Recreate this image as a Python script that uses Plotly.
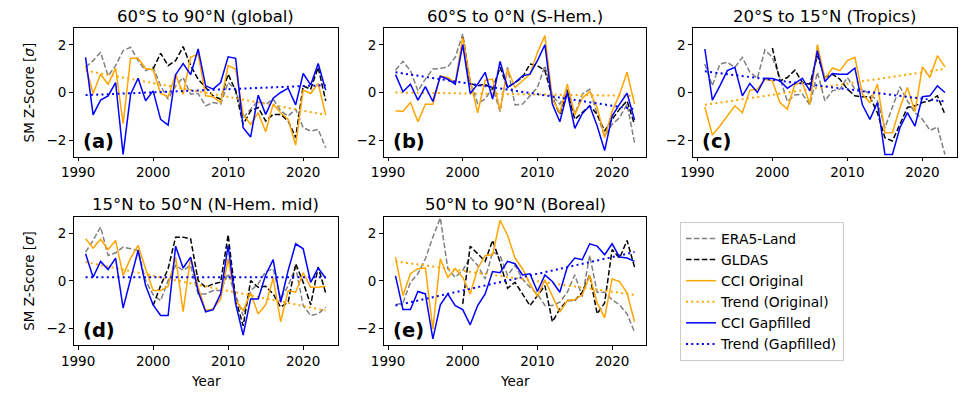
import plotly.graph_objects as go

# years 1991-2023, GLDAS only from 2000
years = list(range(1991, 2024))
gldas_years = list(range(2000, 2024))
trend_years = [1991, 2023]

# (a) 60°S to 90°N (global)
era5_a = [1.06, 1.34, 1.69, 0.70, 1.13, 1.76, 1.90, 1.34, 0.92, 1.06, 0.28, -0.28, 0.28, 0.63, -0.07, -0.04, -0.56,
          -0.42, -0.49, 0.42, 0.14, -1.06, -0.70, -0.35, -0.49, -0.28, -0.77, -0.99, -0.70, -1.48, -1.62, -1.55, -2.32]
gldas_a = [0.99, 1.65, 1.13, 1.34, 1.93, 1.13, 0.56, 0.21, -0.14, -0.28, 0.77, 0.07, -1.34, -0.77, -0.63, -1.20,
           -0.92, -0.92, -1.20, -1.90, 0.28, 0.14, 1.06, -0.35]
orig_a = [1.13, -0.04, 0.77, 0.35, 1.03, -1.31, 1.44, 1.44, 1.01, 0.96, -0.04, -0.18, 0.77, -0.07, 1.48, 1.62, -0.14,
          -0.18, -0.42, 1.13, 0.99, -0.92, -1.34, -0.85, -1.65, -0.49, -0.85, -1.13, -2.21, 0.10, -0.04, 0.38, -0.94]
gap_a = [1.48, -0.94, -0.32, -0.14, 0.42, -2.60, -0.07, 0.60, -0.35, 0.07, -1.13, -1.37, 0.75, 1.22, 0.75, 1.83, 0.28,
         0.14, 0.42, 1.50, 1.44, -1.48, -1.87, -0.11, -0.92, -0.24, 0.00, 0.18, -0.52, 0.80, 0.32, 1.22, 0.10]
trend_orig_a = [0.92, -0.94]
trend_gap_a = [-0.11, 0.31]

# (b) 60°S to 0°N (S-Hem.)
era5_b = [0.94, 1.31, 0.92, 0.07, 0.56, 0.99, 1.01, 1.08, 1.48, 2.46, 0.42, -0.46, -0.28, 0.21, -0.80, 1.06, -0.52,
          -0.49, -0.14, 0.21, 1.13, -0.14, -0.49, 0.14, -0.92, -0.07, 0.14, -0.92, -1.83, -1.34, -1.06, -0.49, -2.11]
gldas_b = [2.35, 0.38, 0.28, 0.35, 0.14, 1.06, 0.21, 0.42, 0.63, 1.20, 1.13, 0.92, -0.21, -0.92, 0.07, -1.13, -0.85,
           -0.56, -0.92, -1.62, -1.13, -0.70, -0.35, -1.34]
orig_b = [-0.77, -0.80, -0.42, -1.23, -0.49, -0.49, 0.70, 0.63, 0.42, 2.32, 0.50, -0.85, 0.52, 0.56, -0.75, 0.99, 0.21,
          0.49, 0.77, 1.69, 2.39, -0.28, -0.85, 0.35, -0.94, -0.24, 0.04, -0.63, -1.90, -0.80, -0.07, 0.85, -0.49]
gap_b = [0.75, 0.03, 0.35, -0.32, 0.25, -0.38, 0.68, 0.56, 0.35, 2.01, -0.04, 0.35, 0.85, -0.28, 1.31, 0.21, 0.42,
         0.70, 0.77, 1.34, 2.01, -0.49, -1.23, 0.00, -1.51, -0.89, -0.56, -1.41, -2.44, -0.99, -0.49, -0.03, -1.15]
trend_orig_b = [0.00, -0.14]
trend_gap_b = [0.85, -0.70]

# (c) 20°S to 15°N (Tropics)
era5_c = [1.20, 0.28, 1.20, 1.27, 1.06, 1.48, 0.85, 0.60, 1.79, 1.48, 0.63, -0.38, -0.10, -0.07, -0.52, 0.85, -0.35,
          0.07, 0.14, 0.63, 0.14, 0.14, -0.07, -0.35, -1.48, -0.63, 0.24, -0.35, -0.85, -1.13, -1.59, -1.45, -2.61]
gldas_c = [1.87, 0.49, 0.63, 0.94, 0.42, 0.35, 1.55, 0.63, 0.77, 0.56, 0.14, -0.14, -0.18, -0.18, -0.85, -1.90,
           -2.04, -1.34, -0.63, -0.56, -0.42, -0.35, -0.14, -0.92]
orig_c = [-0.61, -1.79, -1.41, -0.99, -0.56, -0.85, 0.10, 0.14, 0.56, 0.49, -0.42, -0.70, 0.35, 0.42, -0.49, 2.01,
          0.56, 1.03, 0.92, 1.34, 1.48, -0.07, -0.42, 0.35, -1.69, -1.69, -0.63, 0.21, -0.80, 1.08, 0.63, 1.55, 1.08]
gap_c = [1.83, -0.32, 0.28, 0.92, 1.06, -0.14, 0.38, 0.00, 0.60, 0.59, 0.49, 0.18, 0.38, 0.60, 0.07, 1.76, 0.46,
         0.80, 0.77, 0.77, 1.03, -0.52, -1.13, -0.42, -2.61, -2.61, -1.48, -0.85, -1.41, -0.18, -0.14, 0.28, 0.00]
trend_orig_c = [-0.52, 0.99]
trend_gap_c = [0.89, -0.38]

# (d) 15°N to 50°N (N-Hem. mid)
era5_d = [1.21, 1.70, 2.27, 1.07, 1.18, 1.42, 1.35, 1.28, 0.01, -0.59, -0.83, 0.01, 0.65, 0.44, 0.65, -0.55, -0.55,
          -0.41, -0.41, 0.30, -0.62, -1.46, -0.41, -0.13, 0.39, 0.51, -0.76, -0.20, 0.58, -1.04, -1.46, -1.39, -1.11]
gldas_d = [-1.04, -0.20, 0.51, 1.84, 1.84, 1.77, 0.01, -0.27, -0.13, -0.06, 1.94, -0.76, -1.89, 0.01, -0.27, -0.23,
           -0.55, -1.11, -0.90, 0.72, -0.06, -1.01, 0.58, -0.51]
orig_d = [1.77, 1.38, 1.75, 1.32, 1.70, 0.23, 0.96, 1.49, 0.51, -0.41, -0.41, -0.23, 1.00, -1.30, 1.00, -0.27, -1.25,
          -1.18, -0.76, 0.93, -0.83, -1.25, -0.51, -1.39, -1.01, 0.11, -1.72, -0.41, -0.48, 0.34, -0.27, -0.27, -0.23]
gap_d = [1.14, 0.15, 0.82, 0.48, 0.96, -1.15, 0.08, 1.28, -0.20, -1.01, -1.46, -1.46, 1.46, 0.54, 1.00, -0.45, -1.30,
         -1.21, -0.55, 1.49, -0.97, -2.28, -0.76, -0.76, 0.25, 0.89, -0.90, 0.44, 1.56, 1.35, -0.06, 0.54, 0.11]
trend_orig_d = [0.79, -1.25]
trend_gap_d = [0.15, 0.15]

# (e) 50°N to 90°N (Boreal)
era5_e = [-1.01, -0.93, -0.06, 0.30, 0.93, 1.84, 2.65, 0.51, 0.15, 0.44, 1.00, 0.65, 0.08, 1.21, 1.07, 0.23, 0.65,
          0.08, -0.27, -0.55, -1.04, -1.04, -0.90, -0.48, 0.25, -0.66, 1.07, -0.48, -0.48, -0.80, -1.01, -1.39, -2.15]
gldas_e = [-0.97, 1.46, 1.14, 0.82, 1.70, 0.79, -0.31, -0.06, -0.55, -1.04, -0.62, -0.20, -1.72, -1.18, -0.83, -0.83,
           -0.48, 0.25, -1.39, -0.93, 1.32, 0.96, 1.70, 0.58]
orig_e = [1.00, -0.62, 0.30, 0.51, 0.54, -2.03, 0.93, 0.15, 0.51, 0.15, -0.55, 0.51, 1.07, 1.10, 2.55, 1.92, 0.96,
          0.51, -0.13, -0.66, 0.04, -0.62, -1.32, -0.83, -0.80, -0.59, 0.23, -0.93, -1.55, 0.08, -0.03, -0.51, -1.72]
gap_e = [0.21, -1.21, -1.21, -0.45, -0.55, -2.44, -1.01, -0.55, -1.04, -1.21, -1.85, -1.04, -0.55, 0.39, 0.34, 0.82,
         0.72, 0.25, 0.30, -0.45, 0.25, -0.03, -0.48, 0.58, 0.96, 0.89, 1.56, 1.46, 1.10, 1.56, 1.00, 0.96, 0.82]
trend_orig_e = [0.82, -0.59]
trend_gap_e = [-1.04, 1.21]

titles = ['60°S to 90°N (global)', '60°S to 0°N (S-Hem.)', '20°S to 15°N (Tropics)',
          '15°N to 50°N (N-Hem. mid)', '50°N to 90°N (Boreal)']
labels = ['(a)', '(b)', '(c)', '(d)', '(e)']
x_ticks = [1990, 2000, 2010, 2020]
y_ticks = [-2, 0, 2]

panels = [
    (era5_a, gldas_a, orig_a, gap_a, trend_orig_a, trend_gap_a),
    (era5_b, gldas_b, orig_b, gap_b, trend_orig_b, trend_gap_b),
    (era5_c, gldas_c, orig_c, gap_c, trend_orig_c, trend_gap_c),
    (era5_d, gldas_d, orig_d, gap_d, trend_orig_d, trend_gap_d),
    (era5_e, gldas_e, orig_e, gap_e, trend_orig_e, trend_gap_e),
]

W, H = 967, 395
OFF = 8  # the page body adds an 8px margin, so place everything 8px up/left
FONT = 'DejaVu Sans'


def px(v):
    return (v - OFF) / W


def py(v):
    return 1 - (v - OFF) / H


# axes boxes in screen pixels (left, right, top, bottom)
boxes = [(61.3, 329, 28.3, 156.7), (375.5, 642, 28.3, 156.7), (689, 956.7, 28.3, 156.7),
         (61.3, 329, 216.7, 345), (375.5, 642, 216.7, 345)]

dash = '5.5px,2.4px'
dot = '2px,3.3px'

fig = go.Figure()
annotations = []

for i, (era5, gldas, orig, gap, t_orig, t_gap) in enumerate(panels):
    n = '' if i == 0 else str(i + 1)
    xa, ya = 'x' + n, 'y' + n
    first = i == 0
    fig.add_trace(go.Scatter(x=years, y=era5, mode='lines', name='ERA5-Land', xaxis=xa, yaxis=ya,
                             line=dict(color='gray', width=1.5, dash=dash), showlegend=first))
    fig.add_trace(go.Scatter(x=gldas_years, y=gldas, mode='lines', name='GLDAS', xaxis=xa, yaxis=ya,
                             line=dict(color='black', width=1.5, dash=dash), showlegend=first))
    fig.add_trace(go.Scatter(x=years, y=orig, mode='lines', name='CCI Original', xaxis=xa, yaxis=ya,
                             line=dict(color='orange', width=1.5), showlegend=first))
    fig.add_trace(go.Scatter(x=trend_years, y=t_orig, mode='lines', name='Trend (Original)', xaxis=xa, yaxis=ya,
                             line=dict(color='orange', width=2, dash=dot), showlegend=first))
    fig.add_trace(go.Scatter(x=years, y=gap, mode='lines', name='CCI Gapfilled', xaxis=xa, yaxis=ya,
                             line=dict(color='blue', width=1.5), showlegend=first))
    fig.add_trace(go.Scatter(x=trend_years, y=t_gap, mode='lines', name='Trend (Gapfilled)', xaxis=xa, yaxis=ya,
                             line=dict(color='blue', width=2, dash=dot), showlegend=first))

    l, r, t, b = boxes[i]
    axis_common = dict(showline=True, mirror=True, linecolor='black', linewidth=1, ticks='outside',
                       ticklen=3.5, tickwidth=1, tickcolor='black', showgrid=False, zeroline=False,
                       tickfont=dict(family=FONT, size=13.5, color='black'))
    fig.layout['xaxis' + n] = dict(domain=[px(l), px(r)], anchor=ya, range=[1989.4, 2024.6],
                                   tickvals=x_ticks, **axis_common)
    fig.layout['yaxis' + n] = dict(domain=[py(b), py(t)], anchor=xa, range=[-2.7, 2.7],
                                   tickvals=y_ticks, **axis_common)

    annotations.append(dict(text=titles[i], xref='paper', yref='paper', x=px((l + r) / 2),
                            y=py(t - 12), xanchor='center', yanchor='middle', showarrow=False,
                            font=dict(family=FONT, size=16.5, color='black')))
    annotations.append(dict(text='<b>' + labels[i] + '</b>', xref='paper', yref='paper', x=px(l + 7.5),
                            y=py(b - 15), xanchor='left', yanchor='middle', showarrow=False,
                            font=dict(family=FONT, size=19.5, color='black')))

# y axis labels on left column, "Year" under bottom row
for t, b in [(28.3, 156.7), (216.7, 345)]:
    annotations.append(dict(text='SM Z-Score [<i>σ</i>]', xref='paper', yref='paper', x=px(16),
                            y=py((t + b) / 2), textangle=-90, xanchor='center', yanchor='middle',
                            showarrow=False, font=dict(family=FONT, size=13.5, color='black')))
for l, r in [(61.3, 329), (375.5, 642)]:
    annotations.append(dict(text='Year', xref='paper', yref='paper', x=px((l + r) / 2), y=py(381),
                            xanchor='center', yanchor='middle', showarrow=False,
                            font=dict(family=FONT, size=13.5, color='black')))

fig.update_layout(
    width=W, height=H,
    margin=dict(l=0, r=0, t=0, b=0),
    paper_bgcolor='white', plot_bgcolor='white',
    annotations=annotations,
    legend=dict(x=px(676), y=py(222), xanchor='left', yanchor='top', bordercolor='#cccccc',
                borderwidth=1, bgcolor='white', font=dict(family=FONT, size=13.9, color='black'),
                tracegroupgap=0),
)

fig.write_html("out.html")
